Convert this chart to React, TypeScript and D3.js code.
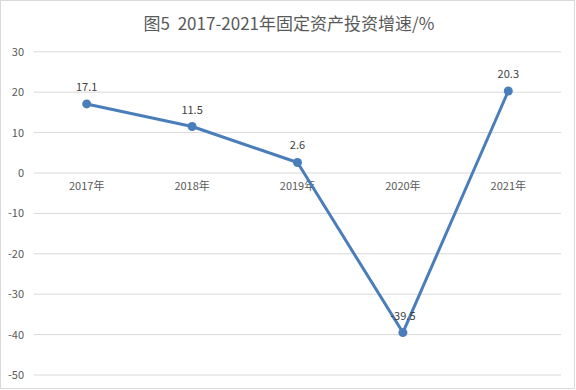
import React from "react";
import * as d3 from "d3";

const categories = ["2017年", "2018年", "2019年", "2020年", "2021年"];
const values = [17.1, 11.5, 2.6, -39.5, 20.3];
const yTicks = [30, 20, 10, 0, -10, -20, -30, -40, -50];
const title = "图5\u00a0\u00a02017-2021年固定资产投资增速/%";

export default function App() {
  const W = 576, H = 390;
  const left = 34, right = 561, top = 51.8, bottom = 375;
  const x = d3.scaleBand().domain(categories).range([left, right]);
  const y = d3.scaleLinear().domain([-50, 30]).range([bottom, top]);
  const line = d3.line<number>()
    .x((_, i) => x(categories[i])! + x.bandwidth() / 2)
    .y((d) => y(d));
  const font = "'Noto Sans CJK SC', 'Noto Sans', sans-serif";
  const color = "#4A7EBB";
  return (
    <svg width={W} height={H} style={{ position: "absolute", left: 0, top: 0 }}>
      <rect x={0.5} y={0.5} width={W - 2} height={H - 2} fill="#fff" stroke="#d9d9d9" />
      <text x={W / 2 + 1} y={30} textAnchor="middle" fontFamily={font} fontSize={17} fill="#595959">{title}</text>
      {yTicks.map((t) => (
        <g key={t}>
          <line x1={left} x2={right} y1={y(t)} y2={y(t)} stroke="#d9d9d9" strokeWidth={1} />
          <text x={24} y={y(t) + 4} textAnchor="end" fontFamily={font} fontSize={11} fill="#595959">{t}</text>
        </g>
      ))}
      {categories.map((c) => (
        <text key={c} x={x(c)! + x.bandwidth() / 2} y={y(0) + 17} textAnchor="middle" fontFamily={font} fontSize={11} fill="#595959">{c}</text>
      ))}
      <path d={line(values) || ""} fill="none" stroke={color} strokeWidth={3} strokeLinejoin="round" />
      {values.map((v, i) => (
        <g key={i}>
          <circle cx={x(categories[i])! + x.bandwidth() / 2} cy={y(v)} r={4.5} fill={color} />
          <text x={x(categories[i])! + x.bandwidth() / 2} y={y(v) - 13} textAnchor="middle" fontFamily={font} fontSize={11} fill="#404040">{v.toFixed(1)}</text>
        </g>
      ))}
    </svg>
  );
}
